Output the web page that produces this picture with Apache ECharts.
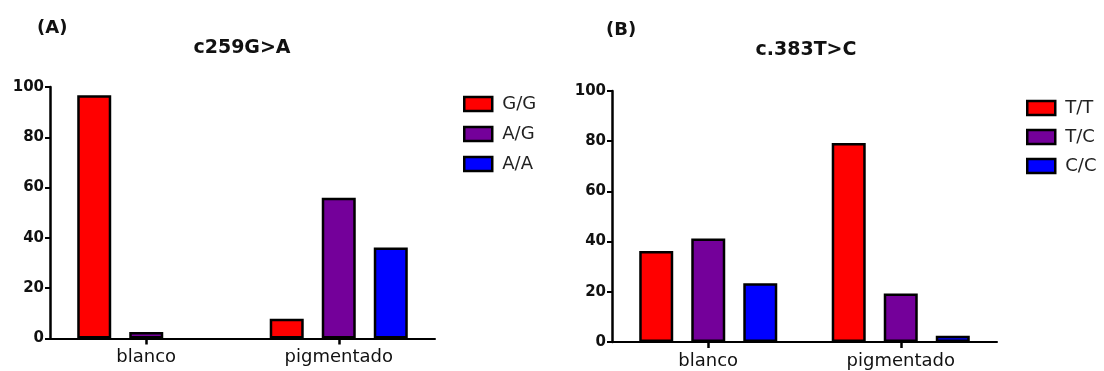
<!DOCTYPE html>
<html>
<head>
<meta charset="utf-8">
<script src="https://cdn.jsdelivr.net/npm/echarts@6/dist/echarts.min.js"></script>
<style>
html,body{margin:0;padding:0;background:#fff;}
#main{width:1104px;height:371px;}
</style>
</head>
<body>
<div id="main"></div>
<script>
// ---- data ----
const categories = ['blanco', 'pigmentado'];
const yTicks = [0, 20, 40, 60, 80, 100];

const titleA = 'c259G>A';
const namesA = ['G/G', 'A/G', 'A/A'];
const gg = [96.7, 7.9];
const ag = [2.6, 56];
const aa = [0, 36.2];

const titleB = 'c.383T>C';
const namesB = ['T/T', 'T/C', 'C/C'];
const tt = [36.3, 79.3];
const tc = [41.2, 19.3];
const cc = [23.4, 2.5];

const colors = ['#ff0000', '#74009a', '#0000ff'];

// ---- chart ----
const FONT = '"DejaVu Sans", "Liberation Sans", Arial, sans-serif';
const chart = echarts.init(document.getElementById('main'), null, {renderer: 'canvas'});

function mkData(arr) {
  return arr.map(v => v === 0 ? {value: 0, itemStyle: {borderWidth: 0}} : v);
}
function mkSeries(name, arr, color, idx) {
  return {
    type: 'bar', name: name, data: mkData(arr),
    xAxisIndex: idx, yAxisIndex: idx,
    barWidth: 34, barGap: '53%',
    itemStyle: {color: color, borderColor: '#000', borderWidth: 2.5},
    emphasis: {disabled: true},
    animation: false
  };
}
function mkX(idx) {
  return {
    type: 'category', gridIndex: idx, data: categories,
    axisLine: {lineStyle: {color: '#000', width: 2}},
    axisTick: {show: true, alignWithLabel: true, length: 6, lineStyle: {color: '#000', width: 2.5}},
    axisLabel: {color: '#111', fontFamily: FONT, fontSize: 18, margin: 10, interval: 0}
  };
}
function mkY(idx) {
  return {
    type: 'value', gridIndex: idx, min: 0, max: 100, interval: 20,
    splitLine: {show: false},
    axisLine: {show: true, lineStyle: {color: '#000', width: 2.5}},
    axisTick: {show: true, length: 5, lineStyle: {color: '#000', width: 2}},
    axisLabel: {color: '#111', fontFamily: FONT, fontSize: 15, fontWeight: 'bold', margin: 6,
      formatter: v => yTicks.includes(v) ? String(v) : ''}
  };
}
function mkLegend(names, left, top, gap) {
  return {
    data: names, orient: 'vertical', left: left, top: top,
    itemWidth: 28, itemHeight: 14, itemGap: gap,
    icon: 'rect',
    itemStyle: {borderColor: '#000', borderWidth: 2.5},
    textStyle: {fontFamily: FONT, fontSize: 18, color: '#222', lineHeight: 16, padding: [0, 0, 0, 5]}
  };
}

const option = {
  backgroundColor: '#fff',
  animation: false,
  grid: [
    {left: 50, top: 87, width: 385, height: 251.5},
    {left: 612, top: 91, width: 385, height: 251}
  ],
  xAxis: [mkX(0), mkX(1)],
  yAxis: [mkY(0), mkY(1)],
  legend: [mkLegend(namesA, 458, 90, 12), mkLegend(namesB, 1021, 94, 11)],
  graphic: [
    {type: 'text', left: 37, top: 19, style: {text: '(A)', font: 'bold 18px ' + FONT, fill: '#111'}},
    {type: 'text', x: 242, y: 39, style: {text: titleA, font: 'bold 19px ' + FONT, fill: '#111', textAlign: 'center'}},
    {type: 'text', left: 606, top: 21, style: {text: '(B)', font: 'bold 18px ' + FONT, fill: '#111'}},
    {type: 'text', x: 806, y: 41, style: {text: titleB, font: 'bold 19px ' + FONT, fill: '#111', textAlign: 'center'}}
  ],
  series: [
    mkSeries(namesA[0], gg, colors[0], 0),
    mkSeries(namesA[1], ag, colors[1], 0),
    mkSeries(namesA[2], aa, colors[2], 0),
    mkSeries(namesB[0], tt, colors[0], 1),
    mkSeries(namesB[1], tc, colors[1], 1),
    mkSeries(namesB[2], cc, colors[2], 1)
  ]
};
chart.setOption(option);
</script>
</body>
</html>
